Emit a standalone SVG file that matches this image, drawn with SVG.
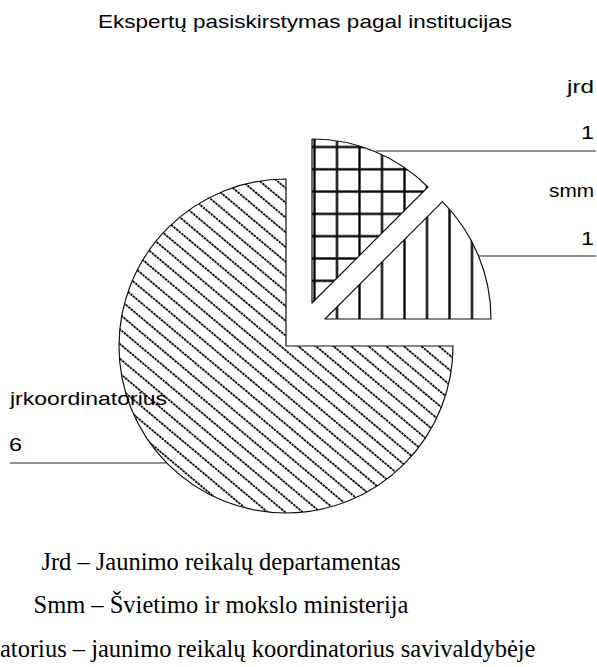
<svg xmlns="http://www.w3.org/2000/svg" width="597" height="667" viewBox="0 0 597 667">
  <style>
    .lbl { font-family: "Liberation Sans", Arial, sans-serif; font-size: 19px; fill: #000; }
    .note { font-family: "Liberation Serif", "Times New Roman", serif; font-size: 24.5px; fill: #000; }
    .slice { stroke: #111; stroke-width: 1.2; stroke-linejoin: round; }
    .leader { stroke: #222; stroke-width: 1.2; fill: none; }
  </style>
  <defs>
    <!-- dotted downward diagonals -->
    <pattern id="diag" patternUnits="userSpaceOnUse" width="20" height="11.3" patternTransform="rotate(40)">
      <line x1="-1" y1="5.65" x2="21" y2="5.65" stroke="#000" stroke-width="1.8" stroke-dasharray="2.4 0.9"/>
    </pattern>
    <!-- square grid -->
    <pattern id="grid" patternUnits="userSpaceOnUse" x="325.75" y="135.85" width="22.5" height="22.3">
      <rect width="22.5" height="22.3" fill="#fff"/>
      <line x1="11.25" y1="0" x2="11.25" y2="22.3" stroke="#000" stroke-width="2.3"/>
      <line x1="0" y1="11.15" x2="22.5" y2="11.15" stroke="#000" stroke-width="2.3"/>
    </pattern>
    <!-- vertical stripes -->
    <pattern id="vert" patternUnits="userSpaceOnUse" x="325.75" y="0" width="22.5" height="20">
      <rect width="22.5" height="20" fill="#fff"/>
      <line x1="11.25" y1="0" x2="11.25" y2="20" stroke="#000" stroke-width="2.3"/>
    </pattern>
  </defs>

  <rect width="597" height="667" fill="#fff"/>

  <text class="lbl" x="98" y="28" textLength="414" lengthAdjust="spacingAndGlyphs">Ekspertų pasiskirstymas pagal institucijas</text>

  <g id="slice-jrkoordinatorius">
    <path class="slice" fill="url(#diag)" d="M286,346 L286,179 A167,167 0 1,0 453,346 Z"/>
  </g>
  <g id="slice-jrd">
    <path class="slice" fill="url(#grid)" d="M312,303 L312,139 A164,164 0 0,1 428,187 Z"/>
  </g>
  <g id="slice-smm">
    <path class="slice" fill="url(#vert)" d="M325,319 L442.4,201.6 A166,166 0 0,1 491,319 Z"/>
  </g>

  <g id="connectors">
    <path class="leader" d="M376,151 H596"/>
    <path class="leader" d="M479,256 H596"/>
    <path class="leader" d="M10,463 H166"/>
  </g>

  <g id="label-jrd">
    <text class="lbl" x="567" y="93" textLength="27" lengthAdjust="spacingAndGlyphs">jrd</text>
    <text class="lbl" x="581" y="139" textLength="13" lengthAdjust="spacingAndGlyphs">1</text>
  </g>
  <g id="label-smm">
    <text class="lbl" x="549" y="197" textLength="45" lengthAdjust="spacingAndGlyphs">smm</text>
    <text class="lbl" x="581" y="245" textLength="13" lengthAdjust="spacingAndGlyphs">1</text>
  </g>
  <g id="label-jrkoordinatorius">
    <text class="lbl" x="10" y="405" textLength="157" lengthAdjust="spacingAndGlyphs">jrkoordinatorius</text>
    <text class="lbl" x="9" y="451" textLength="13" lengthAdjust="spacingAndGlyphs">6</text>
  </g>

  <g id="legend">
    <text class="note" x="221" y="570" text-anchor="middle">Jrd – Jaunimo reikalų departamentas</text>
    <text class="note" x="221" y="613" text-anchor="middle">Smm – Švietimo ir mokslo ministerija</text>
    <text class="note" x="0" y="657">atorius – jaunimo reikalų koordinatorius savivaldybėje</text>
  </g>
</svg>
